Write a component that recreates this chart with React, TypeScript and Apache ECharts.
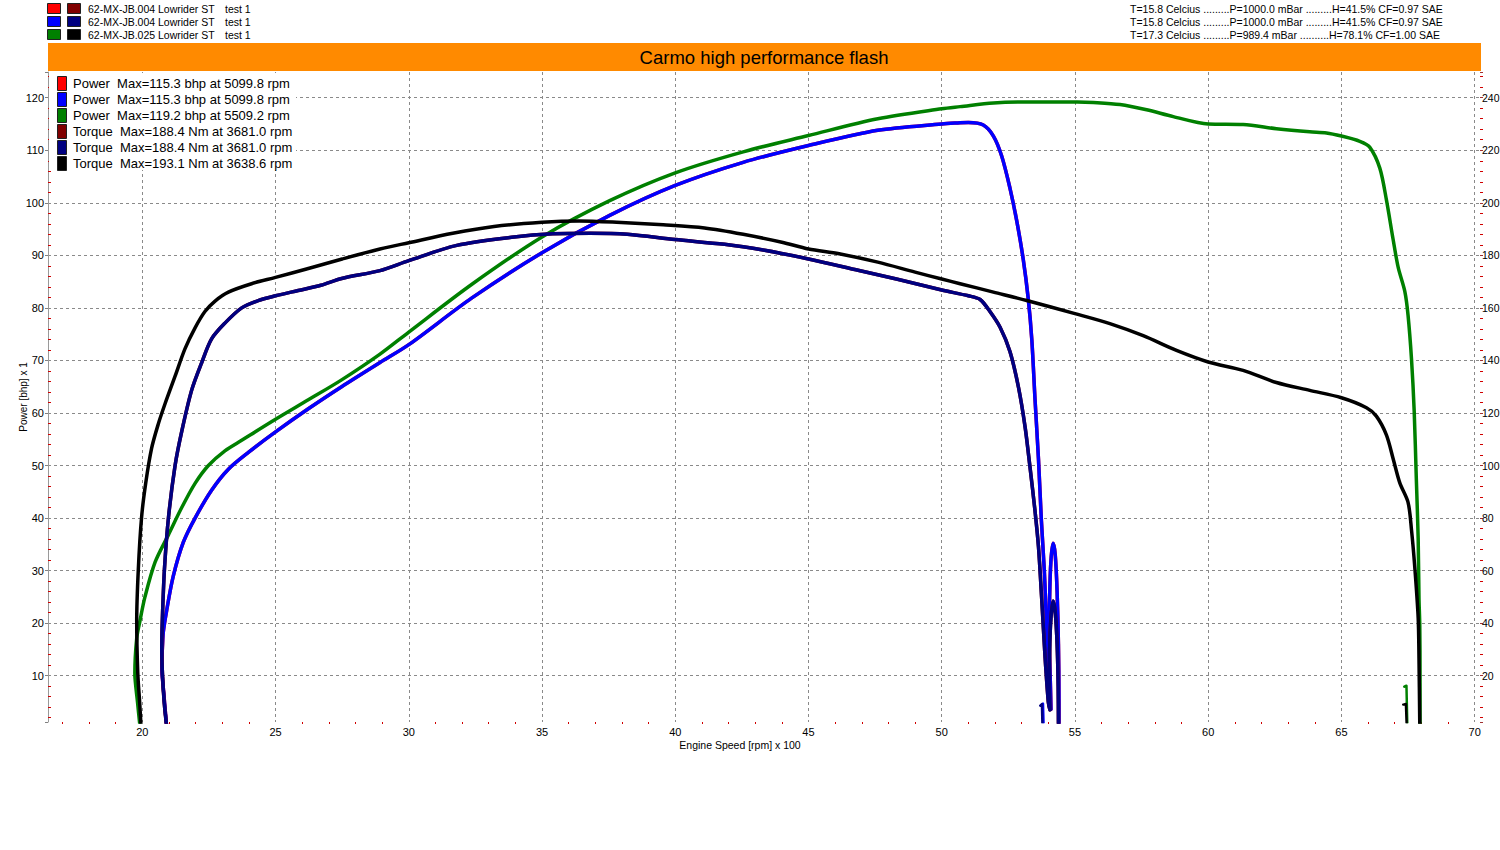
import React, { useEffect, useRef } from "react";
import * as echarts from "echarts";

const FONT = '"Liberation Sans", Arial, sans-serif';

// ---- data (x = engine speed in rpm x 100) ----
// Power [bhp] of the second run (red run 1 is identical and hidden underneath)
const powerRun2: (number)[][] = [
  [20.91, 0.5], [20.8, 7], [20.73, 11.8], [20.76, 16], [20.79, 18.4], [20.91, 22.3], [21.16, 28.9],
  [21.54, 35.4], [21.98, 40.0], [22.6, 45.3], [23.23, 49.3], [23.98, 52.5], [25.0, 56.4], [26.23, 60.8],
  [27.48, 65.0], [28.92, 69.6], [30.0, 73.0], [32.37, 81.9], [35.0, 90.5], [37.54, 97.6], [40.0, 103.3],
  [42.55, 107.7], [45.0, 110.9], [47.6, 113.8], [50.0, 115.0], [50.6, 115.2], [51.0, 115.3], [51.56, 114.8],
  [51.94, 112.7], [52.25, 108.9], [52.56, 102.8], [52.81, 96.7], [53.06, 89.2], [53.25, 81.6], [53.38, 74.0],
  [53.5, 62.7], [53.63, 51.3], [53.74, 39.5], [53.85, 30], [53.93, 20], [54.0, 10], [54.05, 4], [54.1, 3.6],
  [54.08, 8], [54.04, 16], [54.05, 25], [54.1, 32], [54.18, 35.2], [54.26, 33], [54.33, 26], [54.38, 16],
  [54.4, 6], [54.4, 0.5],
];
const powerRun1 = powerRun2;
const powerRun3: number[][] = [
  [19.91, 0.5], [19.82, 5], [19.72, 10.5], [19.79, 17.1], [19.91, 20.4], [20.1, 25.0], [20.48, 31.6],
  [20.98, 36.8], [21.48, 42.0], [21.98, 46.6], [22.48, 50.0], [23.1, 52.8], [23.73, 54.8], [25.0, 58.8],
  [26.23, 62.5], [27.48, 66.3], [28.92, 71.2], [30.0, 75.4], [32.37, 84.5], [35.0, 93.5], [37.54, 100.4],
  [40.0, 105.7], [42.55, 109.7], [45.0, 112.8], [47.6, 116.0], [50.0, 117.9], [50.69, 118.3], [51.94, 119.0],
  [53.19, 119.2], [55.09, 119.2], [55.69, 119.1], [56.69, 118.7], [57.69, 117.7], [58.69, 116.4], [60.0, 115.0],
  [61.31, 114.9], [62.56, 114.1], [63.81, 113.5], [64.44, 113.3], [65.0, 112.7], [65.69, 111.7], [66.06, 110.6],
  [66.44, 106.6], [66.69, 100.5], [66.94, 93.0], [67.13, 87.7], [67.38, 83.1], [67.5, 78.6], [67.63, 70.2],
  [67.73, 60.4], [67.81, 47.5], [67.88, 36.1], [67.91, 24.8], [67.94, 19.5], [67.95, 10], [67.95, 0.5],
];
// Torque [Nm]
const torqueRun2: number[][] = [
  [20.91, 1], [20.82, 10], [20.76, 20], [20.73, 30], [20.75, 40.8], [20.83, 60.4], [20.98, 80], [21.23, 100],
  [21.48, 113], [21.85, 128.6], [22.23, 139.2], [22.6, 148.2], [23.1, 154.2], [23.73, 160], [24.35, 162.8],
  [25.0, 164.6], [25.85, 166.6], [26.7, 168.6], [27.48, 171.2], [28.92, 174.2], [30.0, 178], [31.8, 183.8],
  [33.95, 187], [35.4, 188.2], [36.81, 188.4], [38.2, 188], [40.0, 186], [41.85, 184.2], [43.3, 182],
  [45.0, 178.6], [46.9, 174.2], [48.3, 171], [50.0, 166.8], [51.0, 164.6], [51.44, 163.2], [51.81, 158.6],
  [52.19, 152.6], [52.56, 143.4], [52.88, 129.8], [53.13, 114.6], [53.31, 99.6], [53.5, 82.8], [53.63, 69.2],
  [53.75, 49.6], [53.88, 26.8], [54.0, 10], [54.06, 7], [54.04, 16], [54.05, 30], [54.1, 42], [54.18, 48.4],
  [54.26, 44], [54.33, 32], [54.37, 16], [54.38, 1],
];
const torqueRun1 = torqueRun2;
const torqueRun3: number[][] = [
  [19.95, 1], [19.9, 10], [19.83, 21], [19.79, 40.8], [19.85, 60.4], [19.97, 80], [20.13, 93.4], [20.35, 106.6],
  [20.6, 115.8], [20.85, 123.4], [21.23, 134], [21.6, 144.4], [21.98, 152.4], [22.35, 158.6], [22.73, 162.6],
  [23.23, 166], [24.1, 169.2], [25.0, 171.6], [26.23, 175], [27.5, 178.6], [28.92, 182.4], [30.0, 184.8],
  [31.65, 188.4], [33.2, 191.0], [35.0, 192.6], [36.39, 193.1], [37.8, 192.6], [39.55, 191.6], [41.1, 190.4],
  [42.55, 188], [44.0, 185], [45.0, 182.4], [46.15, 180.6], [47.6, 177.4], [49.0, 173.6], [50.0, 171],
  [50.69, 169.2], [51.94, 166], [53.19, 162.8], [55.0, 157.8], [56.31, 154], [57.56, 149.4], [58.81, 143.8],
  [60.0, 139.4], [61.31, 136.2], [62.56, 131.6], [63.81, 128.6], [65.0, 125.8], [65.94, 122], [66.31, 118.8],
  [66.69, 111.6], [66.94, 102.6], [67.19, 93.4], [67.5, 86], [67.63, 75.4], [67.75, 61.6], [67.88, 42],
  [67.91, 26.8], [67.94, 1],
];
// small return marks near the x axis
const powerRun2Mark: number[][] = [[53.74, 4.4], [53.8, 4.7], [53.82, 1]];
const torqueRun2Mark: number[][] = [[53.7, 8.6], [53.76, 9.2], [53.78, 1]];
const powerRun3Mark: number[][] = [[67.36, 7.9], [67.44, 8.1], [67.47, 1]];
const torqueRun3Mark: number[][] = [[67.32, 9], [67.42, 9.2], [67.45, 1]];

// ---- texts ----
const title = "Carmo high performance flash";
const runNames = ["62-MX-JB.004 Lowrider ST", "62-MX-JB.004 Lowrider ST", "62-MX-JB.025 Lowrider ST"];
const runTests = ["test 1", "test 1", "test 1"];
const runConditions = [
  "T=15.8 Celcius .........P=1000.0 mBar .........H=41.5% CF=0.97 SAE",
  "T=15.8 Celcius .........P=1000.0 mBar .........H=41.5% CF=0.97 SAE",
  "T=17.3 Celcius .........P=989.4 mBar ..........H=78.1% CF=1.00 SAE",
];
const maxLabels = [
  "Power  Max=115.3 bhp at 5099.8 rpm",
  "Power  Max=115.3 bhp at 5099.8 rpm",
  "Power  Max=119.2 bhp at 5509.2 rpm",
  "Torque  Max=188.4 Nm at 3681.0 rpm",
  "Torque  Max=188.4 Nm at 3681.0 rpm",
  "Torque  Max=193.1 Nm at 3638.6 rpm",
];
const powerColors = ["#ff0000", "#0000ff", "#008000"];
const torqueColors = ["#800000", "#000080", "#000000"];
const xAxisName = "Engine Speed [rpm] x 100";
const yAxisName = "Power [bhp] x 1";

function lineSeries(data: number[][], color: string, yAxisIndex: number, width = 3.5, smooth: number | boolean = 0.3) {
  return {
    type: "line",
    data,
    yAxisIndex,
    showSymbol: false,
    symbol: "none",
    smooth,
    silent: true,
    clip: true,
    z: 2,
    lineStyle: { color, width, cap: "round", join: "round" },
    itemStyle: { color },
  };
}

export default function App() {
  const ref = useRef<HTMLDivElement>(null);
  useEffect(() => {
    if (!ref.current) return;
    const chart = echarts.init(ref.current, null, { renderer: "svg" });
    const legendColors = [...powerColors, ...torqueColors];
    const graphic: any[] = [];
    // title bar
    graphic.push({ type: "rect", z: 10, shape: { x: 48, y: 43, width: 1433, height: 28 }, style: { fill: "#ff8a00" }, silent: true });
    graphic.push({
      type: "text", z: 11, x: 764, y: 57, silent: true,
      style: { text: title, fontFamily: FONT, fontSize: 18.5, fill: "#000", textAlign: "center", textVerticalAlign: "middle", align: "center", verticalAlign: "middle" },
    });
    // run list top-left / conditions top-right
    runNames.forEach((n, i) => {
      const y = 3 + i * 13;
      graphic.push({ type: "rect", z: 10, shape: { x: 47.5, y: y + 0.5, width: 13, height: 10 }, style: { fill: powerColors[i], stroke: "#202020", lineWidth: 1 }, silent: true });
      graphic.push({ type: "rect", z: 10, shape: { x: 67.5, y: y + 0.5, width: 13, height: 10 }, style: { fill: torqueColors[i], stroke: "#202020", lineWidth: 1 }, silent: true });
      graphic.push({ type: "text", z: 10, x: 88, y: y + 5.5, silent: true, style: { text: n, fontFamily: FONT, fontSize: 10.5, fill: "#000", textVerticalAlign: "middle", verticalAlign: "middle" } });
      graphic.push({ type: "text", z: 10, x: 225, y: y + 5.5, silent: true, style: { text: runTests[i], fontFamily: FONT, fontSize: 10.5, fill: "#000", textVerticalAlign: "middle", verticalAlign: "middle" } });
      graphic.push({ type: "text", z: 10, x: 1130, y: y + 5.5, silent: true, style: { text: runConditions[i], fontFamily: FONT, fontSize: 10.5, fill: "#000", textVerticalAlign: "middle", verticalAlign: "middle" } });
    });
    // max legend inside plot, on a white panel that hides the grid
    graphic.push({ type: "rect", z: 10, shape: { x: 49, y: 73, width: 247, height: 97 }, style: { fill: "#ffffff" }, silent: true });
    maxLabels.forEach((t, i) => {
      const y = 76 + i * 16;
      graphic.push({ type: "rect", z: 11, shape: { x: 57.5, y: y + 0.5, width: 9, height: 14 }, style: { fill: legendColors[i], stroke: "#202020", lineWidth: 1 }, silent: true });
      graphic.push({ type: "text", z: 11, x: 73, y: y + 7.5, silent: true, style: { text: t, fontFamily: FONT, fontSize: 13, fill: "#000", textVerticalAlign: "middle", verticalAlign: "middle" } });
    });
    graphic.push({
      type: "text", z: 10, x: 740, y: 745, silent: true,
      style: { text: xAxisName, fontFamily: FONT, fontSize: 10.5, fill: "#000", textAlign: "center", textVerticalAlign: "middle", align: "center", verticalAlign: "middle" },
    });

    const split = { show: true, showMinLine: false, showMaxLine: false, lineStyle: { type: [3, 3], color: "#8a8a8a", width: 1 } };

    chart.setOption({
      animation: false,
      backgroundColor: "#ffffff",
      textStyle: { fontFamily: FONT },
      grid: { left: 48, right: 20, top: 72, bottom: 128, containLabel: false, outerBoundsMode: "none" },
      xAxis: {
        type: "value",
        min: 16.461,
        max: 70.2,
        splitNumber: 10,
        axisLine: { show: false, onZero: false },
        axisTick: { show: false },
        minorTick: { show: true, splitNumber: 5, length: 2, lineStyle: { color: "#d00000", width: 1 } },
        axisLabel: {
          color: "#000", fontSize: 11, fontFamily: FONT, margin: 4, showMinLabel: false, showMaxLabel: false,
          formatter: (v: number) => (Math.abs(v % 5) < 1e-6 ? String(Math.round(v)) : ""),
        },
        splitLine: split,
      },
      yAxis: [
        {
          type: "value",
          position: "left",
          min: 1.19,
          max: 124.89,
          splitNumber: 12,
          name: yAxisName,
          nameLocation: "middle",
          nameGap: 20,
          nameMoveOverlap: false,
          nameTextStyle: { fontSize: 10, color: "#000", fontFamily: FONT },
          axisLine: { show: true, onZero: false, lineStyle: { color: "#9a9a9a", width: 1 } },
          axisTick: { show: true, length: 3, lineStyle: { color: "#808080" } },
          minorTick: { show: true, splitNumber: 5, length: -3, lineStyle: { color: "#d00000", width: 1 } },
          axisLabel: {
            color: "#000", fontSize: 11, fontFamily: FONT, margin: 4, showMinLabel: false, showMaxLabel: false,
            formatter: (v: number) => (Math.abs(v % 10) < 1e-6 ? String(Math.round(v)) : ""),
          },
          splitLine: split,
        },
        {
          type: "value",
          position: "right",
          min: 2.38,
          max: 249.78,
          splitNumber: 12,
          axisLine: { show: false, onZero: false },
          axisTick: { show: true, length: 3, lineStyle: { color: "#a03030" } },
          minorTick: { show: true, splitNumber: 5, length: 3, lineStyle: { color: "#d00000", width: 1 } },
          axisLabel: {
            color: "#000", fontSize: 10.5, fontFamily: FONT, margin: 2, showMinLabel: false, showMaxLabel: false,
            formatter: (v: number) => (Math.abs(v % 20) < 1e-6 ? String(Math.round(v)) : ""),
          },
          splitLine: { show: false },
        },
      ],
      series: [
        lineSeries(powerRun1, powerColors[0], 0),
        lineSeries(powerRun2, powerColors[1], 0),
        lineSeries(powerRun3, powerColors[2], 0),
        lineSeries(torqueRun1, torqueColors[0], 1),
        lineSeries(torqueRun2, torqueColors[1], 1),
        lineSeries(torqueRun3, torqueColors[2], 1),
        lineSeries(powerRun2Mark, powerColors[1], 0, 2.5, false),
        lineSeries(torqueRun2Mark, torqueColors[1], 1, 2.5, false),
        lineSeries(powerRun3Mark, powerColors[2], 0, 2.5, false),
        lineSeries(torqueRun3Mark, torqueColors[2], 1, 2.5, false),
      ],
      graphic,
    });
    return () => chart.dispose();
  }, []);
  return <div ref={ref} style={{ position: "fixed", left: 0, top: 0, width: 1500, height: 850, background: "#fff" }} />;
}
